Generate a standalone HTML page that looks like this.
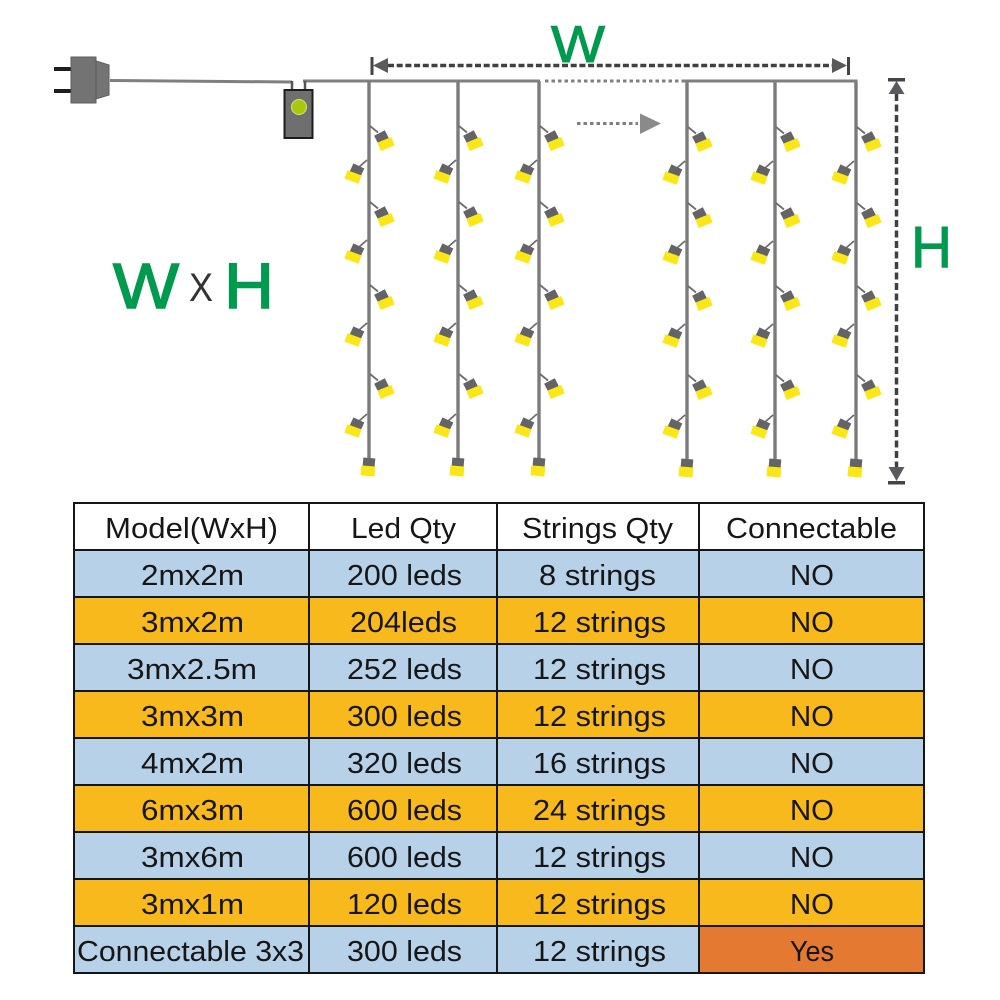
<!DOCTYPE html>
<html><head><meta charset="utf-8"><style>
html,body{margin:0;padding:0;background:#fff}
svg{display:block}
text{font-family:"Liberation Sans",sans-serif}
.t text{font-size:29px;fill:#161616}
</style></head><body>
<svg width="1000" height="1000" viewBox="0 0 1000 1000" xmlns="http://www.w3.org/2000/svg">
<defs>
<g id="r">
<line x1="0" y1="0" x2="8" y2="6.500" stroke="#6d6d6d" stroke-width="1.800"/>
<rect x="5.500" y="6.500" width="12" height="9" fill="#636368" transform="rotate(-27 11.500 11)"/>
<rect x="8.500" y="13.500" width="15" height="9" fill="#fbe616" transform="rotate(-22 16 18)"/>
</g>
<g id="l">
<line x1="0" y1="0" x2="-8" y2="7" stroke="#6d6d6d" stroke-width="1.800"/>
<rect x="-16" y="5.500" width="12" height="9" fill="#636368" transform="rotate(25 -10 10)"/>
<rect x="-21.500" y="12.500" width="15" height="9" fill="#fbe616" transform="rotate(20 -14 17)"/>
</g>
<g id="s">
<line x1="0" y1="81" x2="0" y2="460" stroke="#7b7b7b" stroke-width="3.400"/>
<use href="#r" x="1" y="126"/><use href="#r" x="1" y="202"/><use href="#r" x="1" y="285"/><use href="#r" x="1" y="374"/>
<use href="#l" x="-2" y="160"/><use href="#l" x="-2" y="240"/><use href="#l" x="-2" y="323"/><use href="#l" x="-2" y="414"/>
<rect x="-6" y="458" width="12" height="10" fill="#636368" transform="rotate(5 0 462)"/>
<rect x="-8" y="466" width="14" height="10" fill="#fbe616" transform="rotate(5 0 470)"/>
</g>
</defs>

<!-- plug -->
<rect x="54" y="67" width="18" height="4" fill="#1e1e1e"/>
<rect x="54" y="89" width="18" height="4" fill="#1e1e1e"/>
<rect x="71" y="57" width="25" height="46" fill="#737373" stroke="#5c5c5c"/>
<polygon points="96,61 109,65 109,95 96,99" fill="#757575" stroke="#5c5c5c"/>
<line x1="110" y1="80.500" x2="292" y2="82" stroke="#7f7f7f" stroke-width="3"/>
<line x1="303" y1="81" x2="540" y2="81" stroke="#7f7f7f" stroke-width="3"/>
<line x1="292" y1="81" x2="292" y2="90" stroke="#555" stroke-width="2.500"/>
<line x1="305" y1="81" x2="305" y2="90" stroke="#555" stroke-width="2.500"/>
<rect x="284.500" y="90" width="28" height="48" fill="#6f6f6f" stroke="#1d1d1d" stroke-width="2"/>
<circle cx="299" cy="107" r="7.500" fill="#a9c70b" stroke="#d9e37a"/>

<!-- strands -->
<use href="#s" x="369"/><use href="#s" x="458"/><use href="#s" x="539"/>
<use href="#s" x="687" y="1"/><use href="#s" x="775" y="1"/><use href="#s" x="856" y="1"/>
<line x1="685" y1="81" x2="857.500" y2="81" stroke="#7f7f7f" stroke-width="3"/>
<line x1="545" y1="81" x2="685" y2="81" stroke="#808080" stroke-width="3" stroke-dasharray="3.500 3"/>

<!-- W arrow -->
<rect x="370.500" y="57" width="3" height="18" fill="#444"/>
<polygon points="373,65.500 388,58 388,73" fill="#5a5a5e"/>
<polygon points="847,65.500 832,58 832,73" fill="#5a5a5e"/>
<rect x="847" y="57" width="3" height="18" fill="#444"/>
<line x1="388" y1="65.500" x2="832" y2="65.500" stroke="#404040" stroke-width="3.500" stroke-dasharray="6 2.700"/>

<!-- H arrow -->
<rect x="888" y="78" width="17" height="3.500" fill="#444"/>
<polygon points="896.500,81 888.500,94 904.500,94" fill="#5a5a5e"/>
<polygon points="896.500,481 888.500,467 904.500,467" fill="#5a5a5e"/>
<rect x="888" y="481" width="17" height="3.500" fill="#444"/>
<line x1="896.500" y1="94" x2="896.500" y2="467" stroke="#404040" stroke-width="3.500" stroke-dasharray="7 3.500"/>

<!-- dotted arrow -->
<line x1="577" y1="123.500" x2="638" y2="123.500" stroke="#7f7f7f" stroke-width="3" stroke-dasharray="3.500 3"/>
<polygon points="640,113.500 661,123.500 640,134" fill="#8a8a8a"/>

<!-- labels -->
<g fill="#009a4e" stroke="#009a4e">
<text x="551" y="62" font-size="52" stroke-width="1" textLength="54" lengthAdjust="spacingAndGlyphs">W</text>
<text x="113" y="308" font-size="64" stroke-width="1.500" textLength="66" lengthAdjust="spacingAndGlyphs">W</text>
<text x="224" y="308" font-size="64" stroke-width="1.500" textLength="50" lengthAdjust="spacingAndGlyphs">H</text>
<text x="911" y="267" font-size="58" stroke-width="1" textLength="41" lengthAdjust="spacingAndGlyphs">H</text>
</g>
<text x="189" y="301" font-size="40" fill="#333" textLength="24" lengthAdjust="spacingAndGlyphs">X</text>

<!-- table fills -->
<rect x="74" y="503" width="850" height="47" fill="#fff"/>
<rect x="74" y="550" width="850" height="47" fill="#b7d1e8"/>
<rect x="74" y="597" width="850" height="47" fill="#f7b91b"/>
<rect x="74" y="644" width="850" height="47" fill="#b7d1e8"/>
<rect x="74" y="691" width="850" height="47" fill="#f7b91b"/>
<rect x="74" y="738" width="850" height="47" fill="#b7d1e8"/>
<rect x="74" y="785" width="850" height="47" fill="#f7b91b"/>
<rect x="74" y="832" width="850" height="47" fill="#b7d1e8"/>
<rect x="74" y="879" width="850" height="47" fill="#f7b91b"/>
<rect x="74" y="926" width="850" height="47" fill="#b7d1e8"/>
<rect x="699" y="926" width="225" height="47" fill="#e47a32"/>

<!-- table lines -->
<g stroke="#161616" stroke-width="2" fill="none">
<rect x="74" y="503" width="850" height="470"/>
<path d="M74 550H924M74 597H924M74 644H924M74 691H924M74 738H924M74 785H924M74 832H924M74 879H924M74 926H924"/>
<path d="M309 503V973M497 503V973M699 503V973"/>
</g>

<!-- table text -->
<g class="t">
<text x="105" y="538" textLength="173" lengthAdjust="spacingAndGlyphs">Model(WxH)</text>
<text x="351" y="538" textLength="105" lengthAdjust="spacingAndGlyphs">Led Qty</text>
<text x="522" y="538" textLength="151" lengthAdjust="spacingAndGlyphs">Strings Qty</text>
<text x="726" y="538" textLength="171" lengthAdjust="spacingAndGlyphs">Connectable</text>

<text x="141" y="585" textLength="103" lengthAdjust="spacingAndGlyphs">2mx2m</text>
<text x="347" y="585" textLength="115" lengthAdjust="spacingAndGlyphs">200 leds</text>
<text x="539" y="585" textLength="117" lengthAdjust="spacingAndGlyphs">8 strings</text>
<text x="790" y="585" textLength="44" lengthAdjust="spacingAndGlyphs">NO</text>

<text x="141" y="632" textLength="103" lengthAdjust="spacingAndGlyphs">3mx2m</text>
<text x="350" y="632" textLength="107" lengthAdjust="spacingAndGlyphs">204leds</text>
<text x="533" y="632" textLength="133" lengthAdjust="spacingAndGlyphs">12 strings</text>
<text x="790" y="632" textLength="44" lengthAdjust="spacingAndGlyphs">NO</text>

<text x="127" y="679" textLength="130" lengthAdjust="spacingAndGlyphs">3mx2.5m</text>
<text x="347" y="679" textLength="115" lengthAdjust="spacingAndGlyphs">252 leds</text>
<text x="533" y="679" textLength="133" lengthAdjust="spacingAndGlyphs">12 strings</text>
<text x="790" y="679" textLength="44" lengthAdjust="spacingAndGlyphs">NO</text>

<text x="141" y="726" textLength="103" lengthAdjust="spacingAndGlyphs">3mx3m</text>
<text x="347" y="726" textLength="115" lengthAdjust="spacingAndGlyphs">300 leds</text>
<text x="533" y="726" textLength="133" lengthAdjust="spacingAndGlyphs">12 strings</text>
<text x="790" y="726" textLength="44" lengthAdjust="spacingAndGlyphs">NO</text>

<text x="141" y="773" textLength="103" lengthAdjust="spacingAndGlyphs">4mx2m</text>
<text x="347" y="773" textLength="115" lengthAdjust="spacingAndGlyphs">320 leds</text>
<text x="533" y="773" textLength="133" lengthAdjust="spacingAndGlyphs">16 strings</text>
<text x="790" y="773" textLength="44" lengthAdjust="spacingAndGlyphs">NO</text>

<text x="141" y="820" textLength="103" lengthAdjust="spacingAndGlyphs">6mx3m</text>
<text x="347" y="820" textLength="115" lengthAdjust="spacingAndGlyphs">600 leds</text>
<text x="533" y="820" textLength="133" lengthAdjust="spacingAndGlyphs">24 strings</text>
<text x="790" y="820" textLength="44" lengthAdjust="spacingAndGlyphs">NO</text>

<text x="141" y="867" textLength="103" lengthAdjust="spacingAndGlyphs">3mx6m</text>
<text x="347" y="867" textLength="115" lengthAdjust="spacingAndGlyphs">600 leds</text>
<text x="533" y="867" textLength="133" lengthAdjust="spacingAndGlyphs">12 strings</text>
<text x="790" y="867" textLength="44" lengthAdjust="spacingAndGlyphs">NO</text>

<text x="141" y="914" textLength="103" lengthAdjust="spacingAndGlyphs">3mx1m</text>
<text x="347" y="914" textLength="115" lengthAdjust="spacingAndGlyphs">120 leds</text>
<text x="533" y="914" textLength="133" lengthAdjust="spacingAndGlyphs">12 strings</text>
<text x="790" y="914" textLength="44" lengthAdjust="spacingAndGlyphs">NO</text>

<text x="77" y="961" textLength="227" lengthAdjust="spacingAndGlyphs">Connectable 3x3</text>
<text x="347" y="961" textLength="115" lengthAdjust="spacingAndGlyphs">300 leds</text>
<text x="533" y="961" textLength="133" lengthAdjust="spacingAndGlyphs">12 strings</text>
<text x="790" y="961" textLength="44" lengthAdjust="spacingAndGlyphs">Yes</text>
</g>
</svg>
</body></html>
